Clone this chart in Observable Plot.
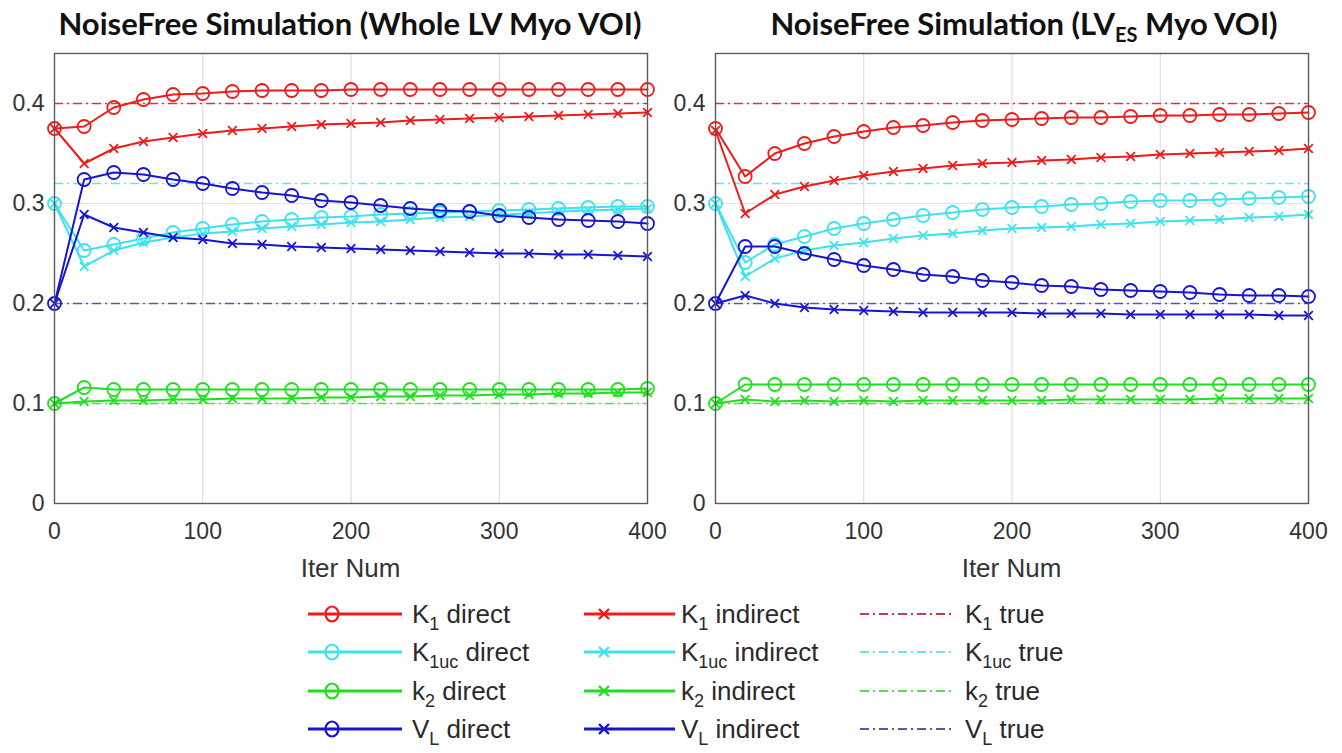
<!DOCTYPE html>
<html><head><meta charset="utf-8">
<script src="https://cdn.jsdelivr.net/npm/d3@7"></script>
<script src="https://cdn.jsdelivr.net/npm/@observablehq/plot@0.6"></script>
<style>
html,body{margin:0;padding:0;background:#fff;}
#wrap{position:relative;width:1342px;height:753px;overflow:hidden;}
#wrap > svg, #wrap > div{position:absolute;}
</style></head><body><div id="wrap"></div>
<script>
// ---------- data ----------
const iters = [0,20,40,60,80,100,120,140,160,180,200,220,240,260,280,300,320,340,360,380,400];
const xTicks = [0,100,200,300,400];
const xTickLabels = ["0","100","200","300","400"];
const yTicks = [0,0.1,0.2,0.3,0.4];
const yTickLabels = ["0","0.1","0.2","0.3","0.4"];
const xLabel = "Iter Num";

const trueK1 = 0.4, trueK1uc = 0.32, trueK2 = 0.1, trueVL = 0.2;

// Panel 1: Whole LV Myo VOI
const wholeK1Direct     = [0.375,0.377,0.396,0.404,0.409,0.410,0.412,0.413,0.413,0.413,0.414,0.414,0.414,0.414,0.414,0.414,0.414,0.414,0.414,0.414,0.414];
const wholeK1Indirect   = [0.375,0.340,0.355,0.362,0.366,0.370,0.373,0.375,0.377,0.379,0.380,0.381,0.383,0.384,0.385,0.386,0.387,0.388,0.389,0.390,0.391];
const wholeK1ucDirect   = [0.300,0.253,0.259,0.265,0.271,0.275,0.279,0.282,0.284,0.286,0.287,0.289,0.290,0.291,0.292,0.293,0.294,0.295,0.296,0.297,0.297];
const wholeK1ucIndirect = [0.300,0.237,0.253,0.261,0.266,0.270,0.272,0.275,0.277,0.279,0.281,0.282,0.284,0.286,0.287,0.289,0.290,0.292,0.293,0.294,0.295];
const wholeK2Direct     = [0.100,0.116,0.114,0.114,0.114,0.114,0.114,0.114,0.114,0.114,0.114,0.114,0.114,0.114,0.114,0.114,0.114,0.114,0.114,0.114,0.115];
const wholeK2Indirect   = [0.100,0.102,0.103,0.103,0.104,0.104,0.105,0.105,0.105,0.106,0.106,0.107,0.107,0.108,0.108,0.109,0.109,0.110,0.110,0.111,0.111];
const wholeVLDirect     = [0.200,0.324,0.331,0.329,0.324,0.320,0.315,0.311,0.308,0.303,0.301,0.298,0.295,0.293,0.292,0.288,0.286,0.284,0.283,0.282,0.280];
const wholeVLIndirect   = [0.200,0.289,0.276,0.271,0.266,0.264,0.260,0.259,0.257,0.256,0.255,0.254,0.253,0.252,0.251,0.250,0.250,0.249,0.249,0.248,0.247];

// Panel 2: LV_ES Myo VOI
const esK1Direct     = [0.375,0.327,0.350,0.360,0.367,0.372,0.376,0.378,0.381,0.383,0.384,0.385,0.386,0.386,0.387,0.388,0.388,0.389,0.389,0.390,0.391];
const esK1Indirect   = [0.373,0.290,0.309,0.317,0.323,0.328,0.332,0.335,0.338,0.340,0.341,0.343,0.344,0.346,0.347,0.349,0.350,0.351,0.352,0.353,0.355];
const esK1ucDirect   = [0.300,0.241,0.259,0.267,0.275,0.280,0.284,0.288,0.291,0.294,0.296,0.297,0.299,0.300,0.302,0.303,0.303,0.304,0.305,0.306,0.307];
const esK1ucIndirect = [0.300,0.227,0.245,0.253,0.258,0.261,0.265,0.268,0.270,0.273,0.275,0.276,0.277,0.279,0.280,0.282,0.283,0.284,0.286,0.287,0.289];
const esK2Direct     = [0.100,0.119,0.119,0.119,0.119,0.119,0.119,0.119,0.119,0.119,0.119,0.119,0.119,0.119,0.119,0.119,0.119,0.119,0.119,0.119,0.119];
const esK2Indirect   = [0.100,0.104,0.102,0.103,0.102,0.103,0.102,0.103,0.103,0.103,0.103,0.103,0.104,0.104,0.104,0.104,0.104,0.105,0.105,0.105,0.105];
const esVLDirect     = [0.200,0.257,0.257,0.250,0.244,0.238,0.234,0.229,0.227,0.223,0.221,0.218,0.217,0.214,0.213,0.212,0.211,0.209,0.208,0.208,0.207];
const esVLIndirect   = [0.200,0.208,0.200,0.196,0.194,0.193,0.192,0.191,0.191,0.191,0.191,0.190,0.190,0.190,0.189,0.189,0.189,0.189,0.189,0.188,0.188];

// parameters (legend order)
const paramKeys  = ["K1","K1uc","k2","VL"];
const paramMain  = ["K","K","k","V"];
const paramSub   = ["1","1uc","2","L"];
const lineColors = ["#f01a1a","#3ee2ee","#1ee01e","#1616d2"];
const trueColors = ["#c83c4a","#66e4ee","#5ad85a","#5858a8"];
const trueValues = [trueK1, trueK1uc, trueK2, trueVL];
const panelTitles = [["NoiseFree Simulation (Whole LV Myo VOI)"], ["NoiseFree Simulation (LV","ES"," Myo VOI)"]];

const panels = [
  {direct:[wholeK1Direct,wholeK1ucDirect,wholeK2Direct,wholeVLDirect],
   indirect:[wholeK1Indirect,wholeK1ucIndirect,wholeK2Indirect,wholeVLIndirect]},
  {direct:[esK1Direct,esK1ucDirect,esK2Direct,esVLDirect],
   indirect:[esK1Indirect,esK1ucIndirect,esK2Indirect,esVLIndirect]}
];

// ---------- layout ----------
const wrap = document.getElementById("wrap");
const FONT = "'Liberation Sans', Arial, Helvetica, sans-serif";
const geom = [
  {left:0,   width:670, marginLeft:54, marginRight:23},
  {left:670, width:672, marginLeft:45, marginRight:34}
];
const H = 560, MT = 53, MB = 57;

panels.forEach((p, pi) => {
  const marks = [
    Plot.gridX([100,200,300], {stroke:"#d8d8d8", strokeOpacity:1, strokeWidth:1}),
    Plot.gridY([0.1,0.2,0.3,0.4], {stroke:"#e2e2e2", strokeOpacity:1, strokeWidth:1}),
  ];
  trueValues.forEach((v, k) => {
    marks.push(Plot.ruleY([v], {stroke: trueColors[k], strokeWidth:1.6, strokeDasharray:"9,4,2,4"}));
  });
  paramKeys.forEach((key, k) => {
    const ind = iters.map((it, i) => ({iter: it, v: p.indirect[k][i]}));
    const dir = iters.map((it, i) => ({iter: it, v: p.direct[k][i]}));
    marks.push(Plot.line(ind, {x:"iter", y:"v", stroke: lineColors[k], strokeWidth:2}));
    marks.push(Plot.dot(ind, {x:"iter", y:"v", symbol:"times", r:4, stroke: lineColors[k], strokeWidth:1.8}));
    marks.push(Plot.line(dir, {x:"iter", y:"v", stroke: lineColors[k], strokeWidth:2}));
    marks.push(Plot.dot(dir, {x:"iter", y:"v", symbol:"circle", r:6.5, fill:"none", stroke: lineColors[k], strokeWidth:1.8}));
  });
  marks.push(Plot.frame({stroke:"#5a5a5a", strokeWidth:1.4}));
  marks.push(Plot.axisX(xTicks, {tickSize:0, tickPadding:19, label:null, tickFormat: d => xTickLabels[xTicks.indexOf(d)]}));
  marks.push(Plot.axisY(yTicks, {tickSize:0, tickPadding:10, label:null, tickFormat: d => yTickLabels[yTicks.indexOf(d)]}));

  const g = geom[pi];
  const svg = Plot.plot({
    width: g.width, height: H,
    marginLeft: g.marginLeft, marginRight: g.marginRight, marginTop: MT, marginBottom: MB,
    x: {domain:[0,400]},
    y: {domain:[0,0.45]},
    style: {fontFamily: FONT, fontSize:"23px", color:"#333", background:"transparent", overflow:"visible"},
    marks
  });
  svg.style.left = g.left + "px";
  svg.style.top = "0px";
  wrap.appendChild(svg);
});

// ---------- titles, x labels, legend (overlay svg) ----------
const ov = d3.select(wrap).append("svg")
  .attr("width",1342).attr("height",753)
  .style("left","0px").style("top","0px").style("pointer-events","none");

const titleX = [350, 1024];
panelTitles.forEach((parts, i) => {
  const t = ov.append("text").attr("x", titleX[i]).attr("y", 35)
    .attr("text-anchor","middle").attr("font-family","Lato, 'Open Sans', sans-serif")
    .attr("font-weight",700).attr("font-size",31).attr("fill","#111");
  if (parts.length === 1) {
    t.text(parts[0]);
  } else {
    t.append("tspan").text(parts[0]);
    t.append("tspan").attr("font-size",20).attr("dy",7).text(parts[1]);
    t.append("tspan").attr("dy",-7).text(parts[2]);
  }
});

const frameCenters = [350.5, 1011.5];
frameCenters.forEach(cx => {
  ov.append("text").attr("x", cx).attr("y", 577).attr("text-anchor","middle")
    .attr("font-family", FONT).attr("font-size",26).attr("fill","#333").text(xLabel);
});

// legend
const rowY = [614, 652, 691, 729];
const cols = [
  {x1:308, x2:402, mx:332, tx:412, kind:"direct",   word:" direct"},
  {x1:584, x2:675, mx:604, tx:681, kind:"indirect", word:" indirect"},
  {x1:860, x2:953, mx:null, tx:965, kind:"true",    word:" true"}
];
const lg = ov.append("g");
cols.forEach(c => {
  paramKeys.forEach((key, k) => {
    const y = rowY[k];
    if (c.kind === "true") {
      lg.append("line").attr("x1",c.x1).attr("x2",c.x2).attr("y1",y).attr("y2",y)
        .attr("stroke",trueColors[k]).attr("stroke-width",2).attr("stroke-dasharray","9,4,2,4");
    } else {
      lg.append("line").attr("x1",c.x1).attr("x2",c.x2).attr("y1",y).attr("y2",y)
        .attr("stroke",lineColors[k]).attr("stroke-width",3);
      if (c.kind === "direct") {
        lg.append("ellipse").attr("cx",c.mx).attr("cy",y).attr("rx",6.5).attr("ry",7.5)
          .attr("fill","none").attr("stroke",lineColors[k]).attr("stroke-width",2.2);
      } else {
        const s = 5;
        lg.append("path").attr("d",`M${c.mx-s},${y-s}L${c.mx+s},${y+s}M${c.mx-s},${y+s}L${c.mx+s},${y-s}`)
          .attr("stroke",lineColors[k]).attr("stroke-width",2.4);
      }
    }
    const t = lg.append("text").attr("x",c.tx).attr("y",y+9)
      .attr("font-family",FONT).attr("font-size",26).attr("fill","#2a2a2a");
    t.append("tspan").text(paramMain[k]);
    t.append("tspan").attr("font-size",18).attr("dy",7).text(paramSub[k]);
    t.append("tspan").attr("dy",-7).text(c.word);
  });
});
</script>
</body></html>
